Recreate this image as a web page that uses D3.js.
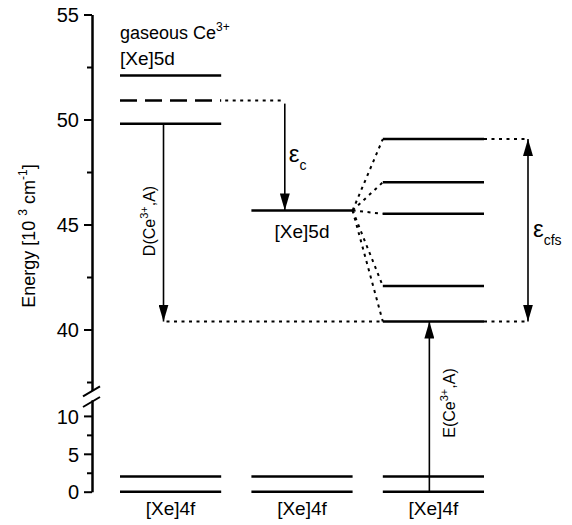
<!DOCTYPE html>
<html>
<head>
<meta charset="utf-8">
<script src="https://cdn.jsdelivr.net/npm/d3@7"></script>
<style>
  body { margin: 0; background: #fff; }
  svg text { font-family: "Liberation Sans", Arial, sans-serif; fill: #000; }
</style>
</head>
<body>
<svg id="chart" width="572" height="525"></svg>
<script>
// energies in 10^3 cm^-1
const columns = ['gas', 'free', 'crystal'];
const topMajorTicks = [40, 45, 50, 55];
const topMinorTicks = [37.5, 42.5, 47.5, 52.5];
const bottomMajorTicks = [0, 5, 10];
const bottomMinorTicks = [2.5, 7.5];
const gasLevels = [49.8, 52.1];       // gaseous Ce3+ 5d levels
const gasBarycenter = 50.9;           // dashed
const centroidLevel = 45.67;          // after centroid shift
const crystalLevels = [40.38, 42.07, 45.51, 47.01, 49.07];
const groundLevels = [0, 2.0];        // [Xe]4f

const svg = d3.select('#chart');

// two y scales, one for the 5d region and one below the axis break
const yTop = d3.scaleLinear().domain([37.1, 55]).range([390.4, 14.5]);
const yBot = d3.scaleLinear().domain([0, 12.1]).range([491.7, 400]);

const x = d3.scaleBand().domain(columns).range([120, 484]).paddingInner(0.23).paddingOuter(0);
const bw = x.bandwidth();

// markers
const defs = svg.append('defs');
defs.append('marker')
  .attr('id', 'head')
  .attr('markerUnits', 'userSpaceOnUse')
  .attr('markerWidth', 17).attr('markerHeight', 10)
  .attr('refX', 17).attr('refY', 5)
  .attr('orient', 'auto-start-reverse')
  .append('path').attr('d', 'M0,0 L17,5 L0,10 Z').attr('fill', '#000');

// axes
const axisG = svg.append('g').attr('transform', 'translate(92,0)');
function styleAxis(g) {
  g.selectAll('path.domain').attr('stroke', '#000').attr('stroke-width', 2);
  g.selectAll('.tick line').attr('stroke', '#000').attr('stroke-width', 2);
  g.selectAll('.tick text')
    .style('font-family', '"Liberation Sans", Arial, sans-serif')
    .style('font-size', '20px').attr('fill', '#000');
}
axisG.append('g')
  .call(d3.axisLeft(yTop).tickValues(topMajorTicks).tickSize(8).tickSizeOuter(0).tickPadding(5).tickFormat(d3.format('d')))
  .call(styleAxis);
axisG.append('g')
  .call(d3.axisLeft(yTop).tickValues(topMinorTicks).tickSize(5).tickSizeOuter(0).tickFormat(''))
  .call(styleAxis);
axisG.append('g')
  .call(d3.axisLeft(yBot).tickValues(bottomMajorTicks).tickSize(8).tickSizeOuter(0).tickPadding(5).tickFormat(d3.format('d')))
  .call(styleAxis);
axisG.append('g')
  .call(d3.axisLeft(yBot).tickValues(bottomMinorTicks).tickSize(5).tickSizeOuter(0).tickFormat(''))
  .call(styleAxis);
axisG.selectAll('.tick text').attr('dy', '0.36em');

// break marks
const yb1 = yTop(yTop.domain()[0]), yb2 = yBot(yBot.domain()[1]);
[yb1 + 1, yb2 + 2].forEach(yy => {
  axisG.append('line')
    .attr('x1', -9).attr('x2', 8)
    .attr('y1', yy + 5).attr('y2', yy - 5)
    .attr('stroke', '#000').attr('stroke-width', 2);
});

// y axis title
const title = svg.append('text')
  .attr('transform', 'translate(35,236) rotate(-90)')
  .attr('text-anchor', 'middle')
  .style('font-size', '18px');
title.append('tspan').text('Energy [10  ');
title.append('tspan').attr('dy', -8).style('font-size', '12px').text('3');
title.append('tspan').attr('dy', 8).text('  cm');
title.append('tspan').attr('dy', -8).style('font-size', '12px').text('-1');
title.append('tspan').attr('dy', 8).text(']');

// levels
function level(col, y, dashed) {
  svg.append('line')
    .attr('x1', x(col)).attr('x2', x(col) + bw)
    .attr('y1', y).attr('y2', y)
    .attr('stroke', '#000').attr('stroke-width', 2.5)
    .attr('stroke-dasharray', dashed ? '17,8' : null);
}
gasLevels.forEach(v => level('gas', yTop(v)));
level('gas', yTop(gasBarycenter), true);
level('free', yTop(centroidLevel));
crystalLevels.forEach(v => level('crystal', yTop(v)));
columns.forEach(c => groundLevels.forEach(v => level(c, yBot(v))));

// dotted guide lines
function dotted(x1, y1, x2, y2) {
  svg.append('line')
    .attr('x1', x1).attr('y1', y1).attr('x2', x2).attr('y2', y2)
    .attr('stroke', '#000').attr('stroke-width', 2)
    .attr('stroke-dasharray', '3,4.5');
}
const epsCx = x('free') + 0.33 * bw;
dotted(x('gas') + bw + 4, yTop(gasBarycenter), epsCx - 2, yTop(gasBarycenter));
const dX = x('gas') + 0.43 * bw;
dotted(dX + 3, yTop(crystalLevels[0]), x('crystal'), yTop(crystalLevels[0]));
crystalLevels.forEach(v => dotted(x('free') + bw, yTop(centroidLevel), x('crystal'), yTop(v)));
const cfsX = x('crystal') + bw + 44;
dotted(x('crystal') + bw, yTop(crystalLevels[4]), cfsX - 3, yTop(crystalLevels[4]));
dotted(x('crystal') + bw, yTop(crystalLevels[0]), cfsX - 3, yTop(crystalLevels[0]));

// arrows
function arrow(x1, y1, x2, y2, both) {
  svg.append('line')
    .attr('x1', x1).attr('y1', y1).attr('x2', x2).attr('y2', y2)
    .attr('stroke', '#000').attr('stroke-width', 1.6)
    .attr('marker-end', 'url(#head)')
    .attr('marker-start', both ? 'url(#head)' : null);
}
arrow(dX, yTop(gasLevels[0]), dX, yTop(crystalLevels[0]));
arrow(epsCx, yTop(gasBarycenter) + 3, epsCx, yTop(centroidLevel));
const eX = x('crystal') + 0.46 * bw;
arrow(eX, yBot(groundLevels[0]), eX, yTop(crystalLevels[0]));
arrow(cfsX, yTop(crystalLevels[4]), cfsX, yTop(crystalLevels[0]), true);

// labels
const gasLabel = svg.append('text').attr('x', x('gas')).attr('y', 39).style('font-size', '18px');
gasLabel.append('tspan').text('gaseous Ce');
gasLabel.append('tspan').attr('dy', -8).style('font-size', '12px').text('3+');
svg.append('text').attr('x', x('gas')).attr('y', 65).style('font-size', '19px').text('[Xe]5d');

svg.append('text').attr('x', x('free') + bw / 2).attr('y', 238)
  .attr('text-anchor', 'middle').style('font-size', '19px').text('[Xe]5d');

columns.forEach(c => {
  svg.append('text').attr('x', x(c) + bw / 2).attr('y', 515)
    .attr('text-anchor', 'middle').style('font-size', '19px').text('[Xe]4f');
});

function greek(xx, yy, sub) {
  const t = svg.append('text').attr('x', xx).attr('y', yy).style('font-size', '24px');
  t.append('tspan').text('\u03b5');
  t.append('tspan').attr('dy', 8).style('font-size', '14px').text(sub);
}
greek(epsCx + 4, 162, 'c');
greek(cfsX + 5, 237, 'cfs');

function rotLabel(xx, yy, letter) {
  const t = svg.append('text')
    .attr('transform', `translate(${xx},${yy}) rotate(-90)`)
    .attr('text-anchor', 'middle')
    .style('font-size', '16px');
  t.append('tspan').text(letter + '(Ce');
  t.append('tspan').attr('dy', -7).style('font-size', '11px').text('3+');
  t.append('tspan').attr('dy', 7).text(',A)');
}
rotLabel(dX - 9, 221, 'D');
rotLabel(eX + 26, 403, 'E');
</script>
</body>
</html>
